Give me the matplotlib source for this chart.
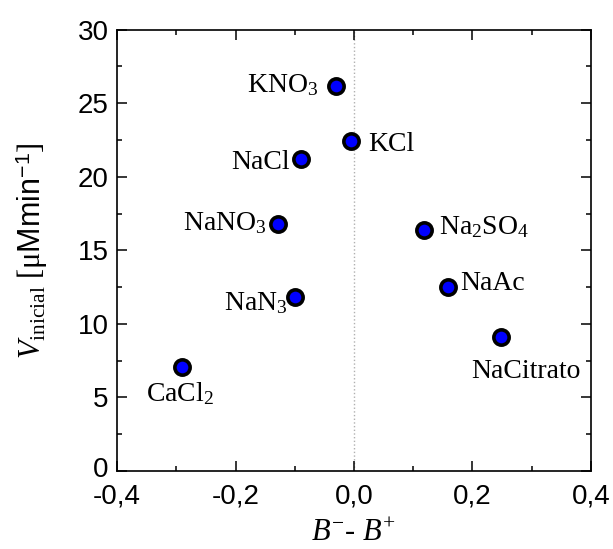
import matplotlib
matplotlib.use("Agg")
import matplotlib.pyplot as plt
import matplotlib.transforms as mtransforms
from matplotlib.ticker import MultipleLocator, FixedLocator, FixedFormatter

plt.rcParams['font.family'] = ['Liberation Sans', 'DejaVu Sans']
plt.rcParams['mathtext.fontset'] = 'custom'
plt.rcParams['mathtext.rm'] = 'Liberation Serif'
plt.rcParams['mathtext.it'] = 'Liberation Serif:italic'
plt.rcParams['mathtext.sf'] = 'Liberation Sans'

# Sales: diferencia de coeficientes B y velocidad inicial
sales = [r'KNO$_3$', 'KCl', 'NaCl', r'NaNO$_3$', r'NaN$_3$',
         r'Na$_2$SO$_4$', 'NaAc', 'NaCitrato', r'CaCl$_2$']
delta_b = [-0.03, -0.005, -0.09, -0.129, -0.10, 0.119, 0.159, 0.249, -0.29]
v_inicial = [26.2, 22.4, 21.2, 16.8, 11.8, 16.4, 12.5, 9.1, 7.05]

# desplazamiento de cada etiqueta (pixeles) y alineacion
offsets = [(-18, -7, 'right'), (17, -10, 'left'), (-11, -10, 'right'),
           (-11, -6, 'right'), (-7, -13, 'right'), (15, -4, 'left'),
           (12, -3, 'left'), (24, -41, 'center'), (-36, -34, 'left')]

xticks = [-0.4, -0.2, 0.0, 0.2, 0.4]
xticklabels = ['-0,4', '-0,2', '0,0', '0,2', '0,4']
yticks = [0, 5, 10, 15, 20, 25, 30]

fig = plt.figure(figsize=(6.13, 5.49), dpi=100)
ax = fig.add_axes([0.191, 0.142, 0.773, 0.804])

ax.axvline(0, color='#b0b0b0', ls=':', lw=1.0, zorder=1)
ax.plot(delta_b, v_inicial, 'o', ms=11, mfc='#0000ff', mec='black',
        mew=2.6, zorder=3)

for name, x, y, (dx, dy, ha) in zip(sales, delta_b, v_inicial, offsets):
    ax.annotate(name, (x, y), xytext=(dx, dy), textcoords='offset pixels',
                ha=ha, va='baseline', fontsize=20,
                family='Liberation Serif')

ax.set_xlim(-0.4, 0.4)
ax.set_ylim(0, 30)
ax.xaxis.set_major_locator(FixedLocator(xticks))
ax.xaxis.set_major_formatter(FixedFormatter(xticklabels))
ax.xaxis.set_minor_locator(MultipleLocator(0.1))
ax.set_yticks(yticks)
ax.yaxis.set_minor_locator(MultipleLocator(2.5))

ax.tick_params(which='both', direction='in', top=True, right=True,
               width=1.1, labelsize=20)
ax.tick_params(which='major', length=7)
ax.tick_params(axis='x', which='major', pad=9)
ax.tick_params(axis='y', which='major', pad=6)
ax.tick_params(which='minor', length=3.5)
for s in ax.spines.values():
    s.set_linewidth(1.2)

# el "0" del eje y un poco mas arriba para que no choque con "-0,4"
lbl0 = ax.yaxis.get_major_ticks()[0].label1
lbl0.set_transform(lbl0.get_transform()
                   + mtransforms.ScaledTranslation(0, 4 / 100, fig.dpi_scale_trans))

ax.set_xlabel(r'$B^{-}$- $B^{+}$', fontsize=22,
              family='Liberation Serif', labelpad=7)
ax.set_ylabel(r'$V_{\mathrm{inicial}}$ [μ$\mathsf{Mmin}^{\mathsf{-1}}$]',
              fontsize=22, family='Liberation Serif', labelpad=20)

fig.savefig('out.png', dpi=100)
